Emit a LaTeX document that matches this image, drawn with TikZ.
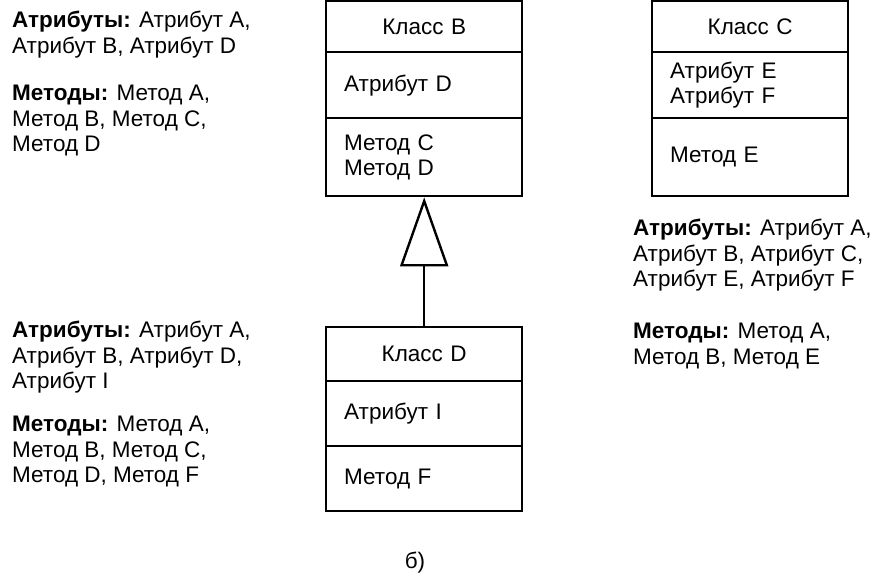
\documentclass[tikz,border=0pt]{standalone}
\usepackage{fontspec}
\setmainfont{Liberation Sans}
\usetikzlibrary{arrows.meta}
\begin{document}
\begin{tikzpicture}[x=1pt,y=-1pt,
  comp/.style={draw, line width=2.4pt, anchor=north west, inner xsep=18pt, inner ysep=0pt,
    text width=160pt, align=left, font=\fontsize{22.5}{25}\selectfont},
  head/.style={comp, align=center},
  note/.style={anchor=north west, inner sep=0pt, align=left, font=\fontsize{22.5}{25.5}\selectfont},
  inherit/.style={line width=2.4pt, -{Triangle[open, length=69pt, width=48pt, line width=2.4pt]}}]
\useasboundingbox (0,0) rectangle (878,576);
\fill[white] (0,0) rectangle (878,576);
% Class B
\node[head, minimum height=51pt] (Bh) at (325,0) {Класс B};
\node[comp, minimum height=66pt] (Ba) at (325,51) {Атрибут D};
\node[comp, minimum height=78pt] (Bm) at (325,117) {Метод C\\Метод D};
% Class C
\node[head, minimum height=51pt] (Ch) at (651,0) {Класс C};
\node[comp, minimum height=66pt] (Ca) at (651,51) {Атрибут E\\Атрибут F};
\node[comp, minimum height=78pt] (Cm) at (651,117) {Метод E};
% Class D
\node[head, minimum height=54pt] (Dh) at (325,326) {Класс D};
\node[comp, minimum height=65pt] (Da) at (325,380) {Атрибут I};
\node[comp, minimum height=65pt] (Dm) at (325,445) {Метод F};
% inheritance
\draw[inherit] (Dh.north) -- (Bm.south);
% notes
\node[note] (nBa) at (12,11) {\textbf{Атрибуты:} Атрибут A,\\Атрибут B, Атрибут D};
\node[note] (nBm) at (12,85) {\textbf{Методы:} Метод A,\\Метод B, Метод C,\\Метод D};
\node[note] (nDa) at (12,321) {\textbf{Атрибуты:} Атрибут A,\\Атрибут B, Атрибут D,\\Атрибут I};
\node[note] (nDm) at (12,416) {\textbf{Методы:} Метод A,\\Метод B, Метод C,\\Метод D, Метод F};
\node[note] (nCa) at (633,219) {\textbf{Атрибуты:} Атрибут A,\\Атрибут B, Атрибут C,\\Атрибут E, Атрибут F};
\node[note] (nCm) at (633,323) {\textbf{Методы:} Метод A,\\Метод B, Метод E};
\node[font=\fontsize{22.5}{25}\selectfont] (cap) at (415,563) {б)};
\end{tikzpicture}
\end{document}
